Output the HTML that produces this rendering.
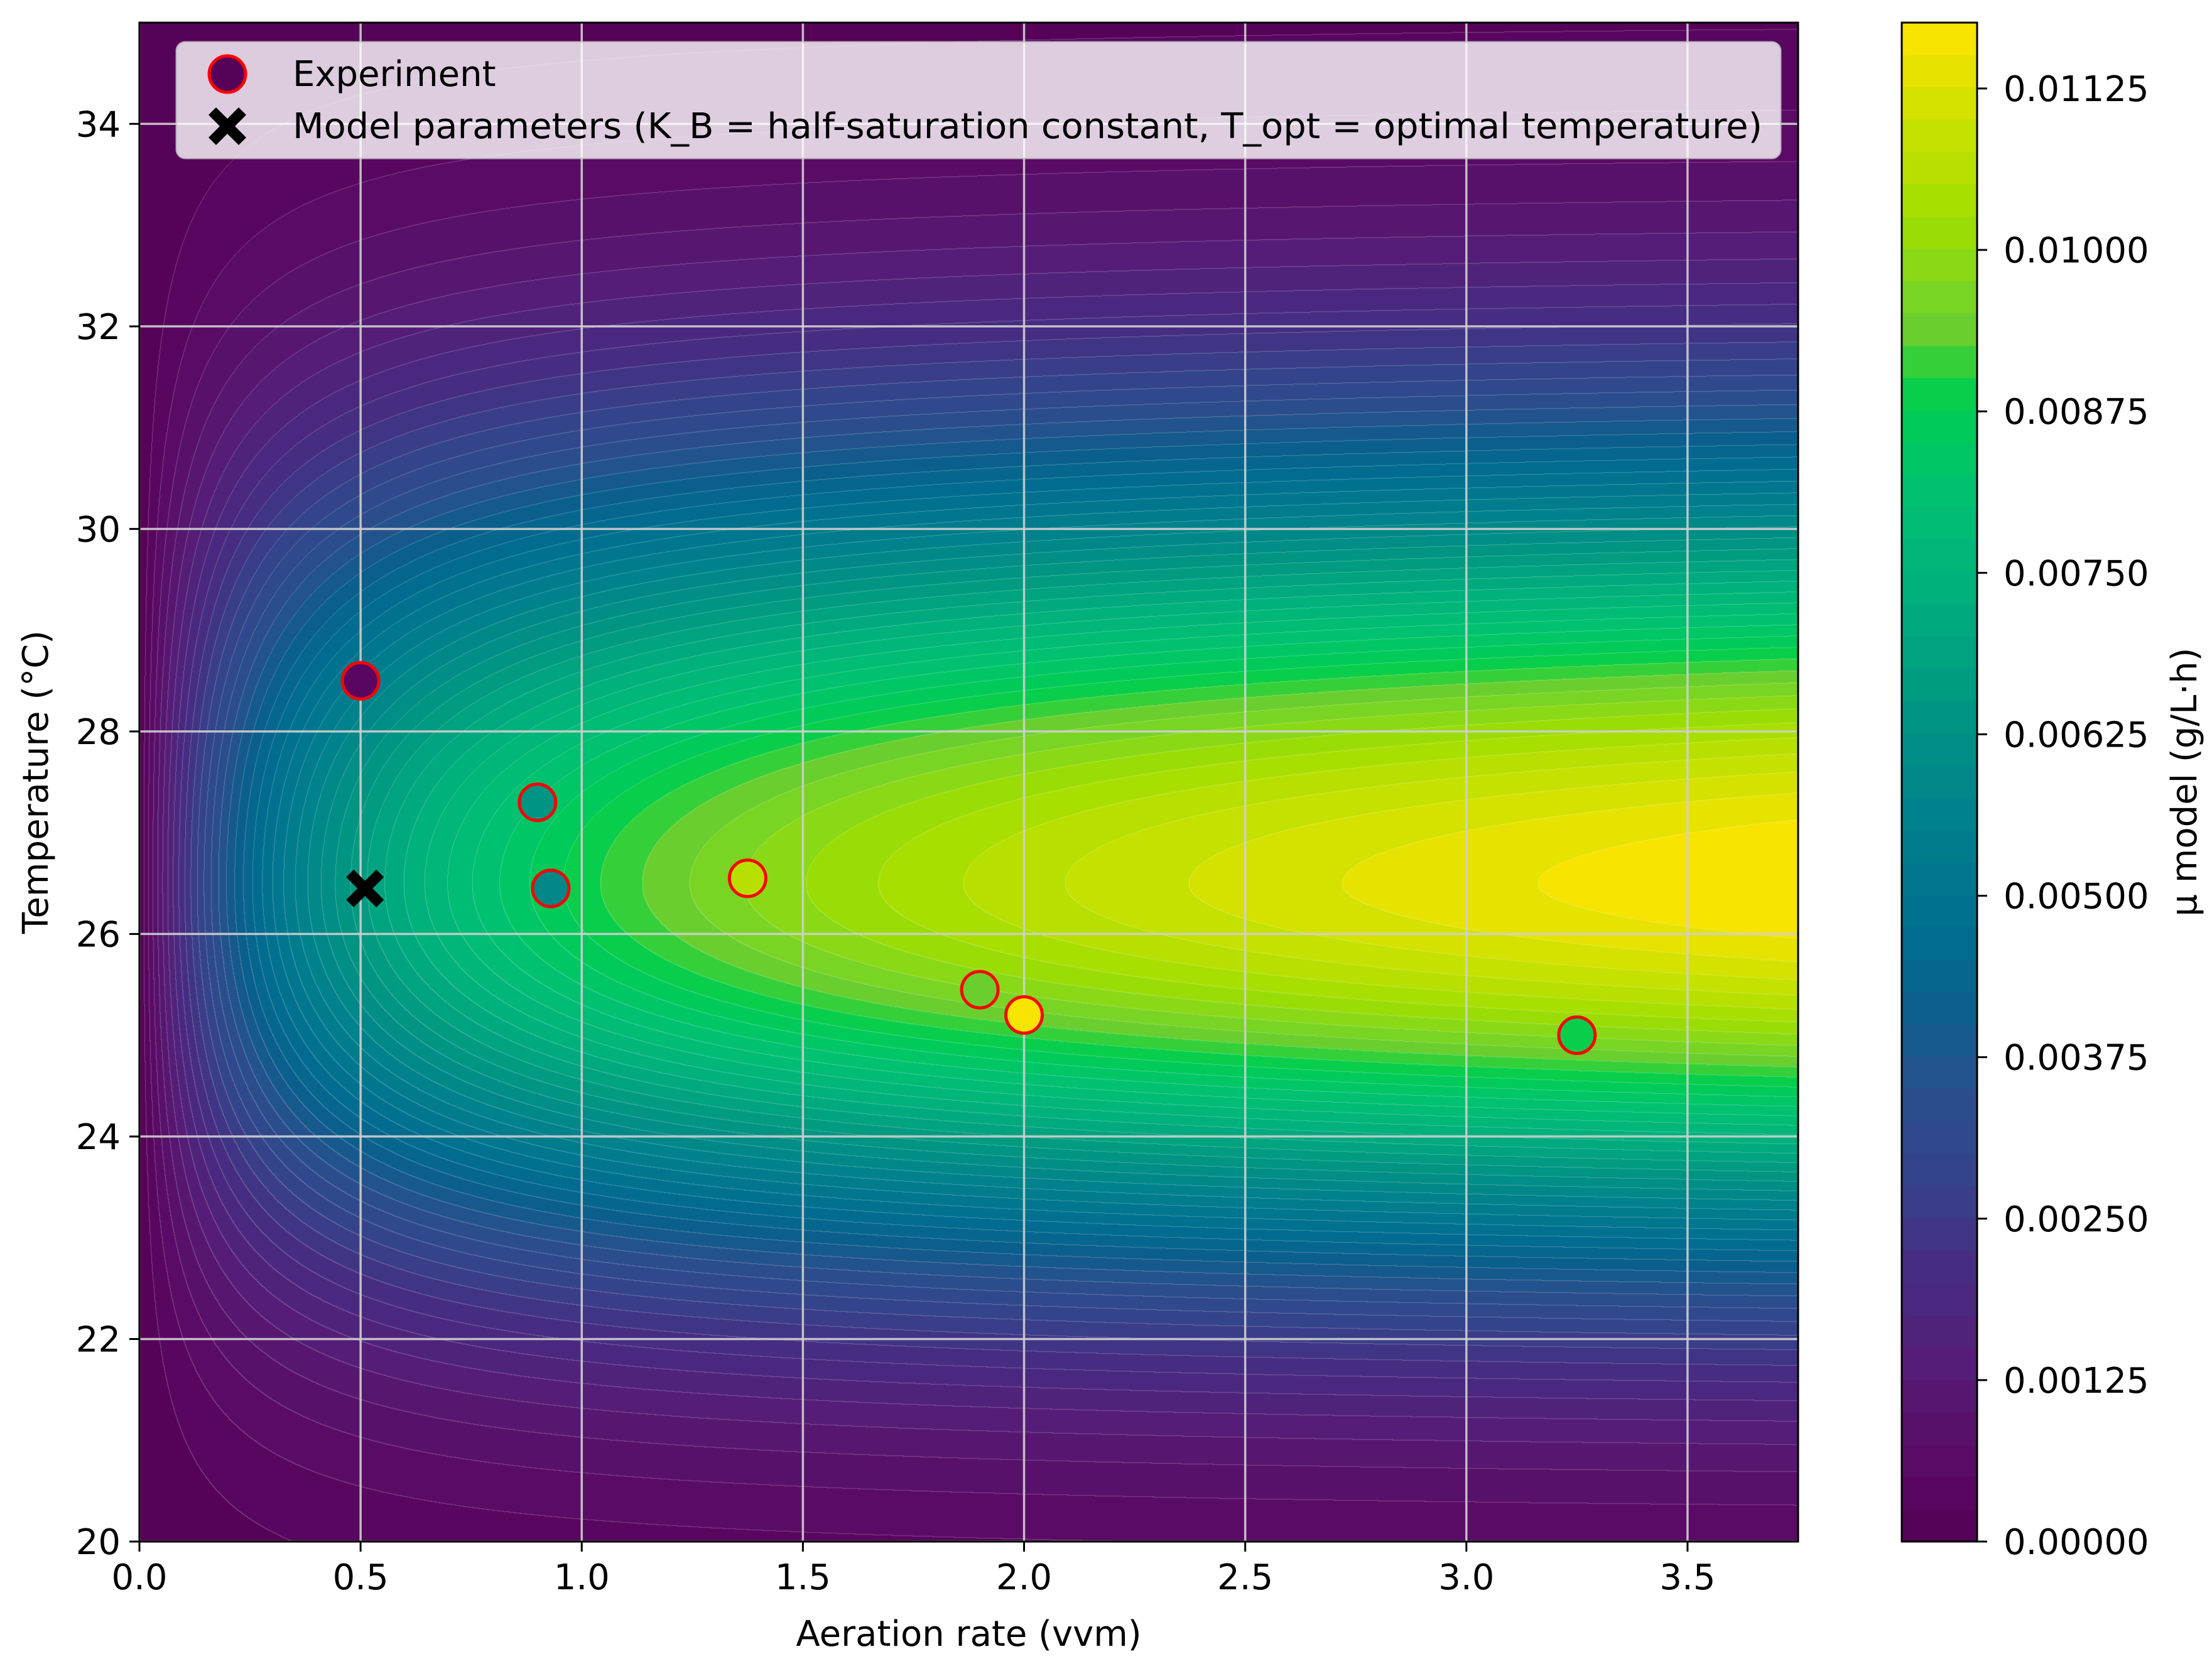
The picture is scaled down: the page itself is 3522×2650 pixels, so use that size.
<!DOCTYPE html>
<html><head><meta charset="utf-8">
<style>
html,body{margin:0;padding:0;background:#fff;}
#wrap{position:relative;width:3522px;height:2650px;overflow:hidden;font-family:"DejaVu Sans","Liberation Sans",sans-serif;}
canvas{position:absolute;}
svg{position:absolute;left:0;top:0;}
</style></head>
<body>
<div id="wrap">
<canvas id="heat"></canvas>
<canvas id="cbar"></canvas>
<svg id="svg" width="3522" height="2650"></svg>
</div>
<script>
// ---- data ----
const xTicks = [0.0,0.5,1.0,1.5,2.0,2.5,3.0,3.5];
const xTickLabels = ["0.0","0.5","1.0","1.5","2.0","2.5","3.0","3.5"];
const yTicks = [20,22,24,26,28,30,32,34];
const yTickLabels = ["20","22","24","26","28","30","32","34"];
const cbTicks = [0,0.00125,0.0025,0.00375,0.005,0.00625,0.0075,0.00875,0.01,0.01125];
const cbTickLabels = ["0.00000","0.00125","0.00250","0.00375","0.00500","0.00625","0.00750","0.00875","0.01000","0.01125"];
const expA = [0.5,0.9,0.93,1.375,1.9,2.0,3.25];
const expT = [28.5,27.3,26.45,26.55,25.45,25.2,25.0];
const expMu = [0.0003,0.0065,0.0058,0.0107,0.0094,0.0117,0.0088];
const paramA = [0.51];
const paramT = [26.45];
const modelMuMax = [0.01333];
const modelKB = [0.5];
const modelTopt = [26.5];
const modelWidthLow = [3.7];
const modelWidthHigh = [4.3];

// ---- geometry ----
const PL=222, PR=2863, PT=36, PB=2455;
const XMIN=0, XMAX=3.75, YMIN=20, YMAX=35;
const CBL=3028, CBR=3148, VMAX=0.01176;
const sx = v => PL + (v-XMIN)/(XMAX-XMIN)*(PR-PL);
const sy = v => PB - (v-YMIN)/(YMAX-YMIN)*(PB-PT);
const sc = v => PB - v/VMAX*(PB-PT);
const NLEV = 47;
const FS = 56;

const CMT=[0,0.05,0.12,0.18,0.25,0.30,0.35,0.40,0.48,0.55,0.62,0.70,0.75,0.77,0.79,0.83,0.87,0.93,1.0];
const CMC=[[85,0,85],[90,10,100],[85,30,120],[70,45,130],[50,70,140],[40,80,140],[10,95,140],[0,110,145],[0,130,140],[0,150,130],[0,175,125],[0,195,110],[0,205,80],[30,210,60],[100,205,50],[130,215,30],[160,222,0],[200,225,0],[255,228,0]];
function cmap(t){t=Math.max(0,Math.min(1,t));let i=0;while(i<CMT.length-2&&t>CMT[i+1])i++;
 const r=(t-CMT[i])/(CMT[i+1]-CMT[i]);return CMC[i].map((c,k)=>Math.round(c+(CMC[i+1][k]-c)*r));}
function mu(a,T){const w=T<modelTopt[0]?modelWidthLow[0]:modelWidthHigh[0];const d=(T-modelTopt[0])/w;
 return modelMuMax[0]*a/(modelKB[0]+a)*Math.exp(-d*d);}
function levelColor(v){const l=Math.max(0,Math.min(NLEV-1,Math.floor(v/VMAX*NLEV)));return cmap((l+0.5)/NLEV);}

// heatmap
const hc=document.getElementById('heat');const W=PR-PL,H=PB-PT;
hc.width=W;hc.height=H;hc.style.left=PL+'px';hc.style.top=PT+'px';
const ctx=hc.getContext('2d');const img=ctx.createImageData(W,H);
const lev=new Int16Array(W*H);
for(let j=0;j<H;j++){const T=YMAX-(j+0.5)/H*(YMAX-YMIN);for(let i=0;i<W;i++){const a=XMIN+(i+0.5)/W*(XMAX-XMIN);
 lev[j*W+i]=Math.min(NLEV-1,Math.floor(mu(a,T)/VMAX*NLEV));}}
const pal=[];for(let l=0;l<NLEV;l++)pal.push(cmap((l+0.5)/NLEV));
for(let j=0;j<H;j++)for(let i=0;i<W;i++){const p=j*W+i;const l=lev[p];let c=pal[l];
 const edge=(i>0&&lev[p-1]!==l)||(j>0&&lev[p-W]!==l);
 const o=p*4; if(edge){img.data[o]=c[0]+(255-c[0])*0.25;img.data[o+1]=c[1]+(255-c[1])*0.25;img.data[o+2]=c[2]+(255-c[2])*0.25;}
 else{img.data[o]=c[0];img.data[o+1]=c[1];img.data[o+2]=c[2];}img.data[o+3]=255;}
ctx.putImageData(img,0,0);

// colorbar
const cb=document.getElementById('cbar');cb.width=CBR-CBL;cb.height=H;cb.style.left=CBL+'px';cb.style.top=PT+'px';
const cctx=cb.getContext('2d');
for(let j=0;j<H;j++){const v=(H-j-0.5)/H*VMAX;const c=levelColor(v);cctx.fillStyle=`rgb(${c[0]},${c[1]},${c[2]})`;cctx.fillRect(0,j,CBR-CBL,1);}

// svg overlay
const NS='http://www.w3.org/2000/svg';const svg=document.getElementById('svg');
function el(tag,attrs,parent){const e=document.createElementNS(NS,tag);for(const k in attrs)e.setAttribute(k,attrs[k]);(parent||svg).appendChild(e);return e;}
// grid
xTicks.forEach((v,i)=>{const g=el('line',{x1:sx(v),x2:sx(v),y1:PT,y2:PB,stroke:'#d0d0d0','stroke-width':3.5,opacity:0.9});
 
 });
yTicks.forEach((v,i)=>{const g=el('line',{x1:PL,x2:PR,y1:sy(v),y2:sy(v),stroke:'#d0d0d0','stroke-width':3.5,opacity:0.9});
 
 });
// frame
const fr=el('rect',{x:PL,y:PT,width:PR-PL,height:PB-PT,fill:'none',stroke:'#000','stroke-width':3});


const cfr=el('rect',{x:CBL,y:PT,width:CBR-CBL,height:PB-PT,fill:'none',stroke:'#000','stroke-width':3});


// ticks
xTicks.forEach((v,i)=>{el('line',{x1:sx(v),x2:sx(v),y1:PB,y2:PB+16,stroke:'#000','stroke-width':3});
 const t=el('text',{x:sx(v),y:PB+76,'font-size':FS,'text-anchor':'middle',fill:'#000'});t.textContent=xTickLabels[i];
 
 });
yTicks.forEach((v,i)=>{el('line',{x1:PL-16,x2:PL,y1:sy(v),y2:sy(v),stroke:'#000','stroke-width':3});
 const t=el('text',{x:PL-30,y:sy(v)+20,'font-size':FS,'text-anchor':'end',fill:'#000'});t.textContent=yTickLabels[i];
 
 });
cbTicks.forEach((v,i)=>{el('line',{x1:CBR,x2:CBR+16,y1:sc(v),y2:sc(v),stroke:'#000','stroke-width':3});
 const t=el('text',{x:CBR+42,y:sc(v)+20,'font-size':FS,'text-anchor':'start',fill:'#000'});t.textContent=cbTickLabels[i];
 
 });
// axis labels
const xl=el('text',{x:(PL+PR)/2,y:2621,'font-size':FS,'text-anchor':'middle'});xl.textContent='Aeration rate (vvm)';


const yl=el('text',{x:0,y:0,'font-size':FS,'text-anchor':'middle',transform:`translate(76,${(PT+PB)/2}) rotate(-90)`});yl.textContent='Temperature (°C)';


const cl=el('text',{x:0,y:0,'font-size':FS,'text-anchor':'middle',transform:`translate(3497,${(PT+PB)/2}) rotate(-90)`});cl.textContent='μ model (g/L·h)';


// experiment points
expA.forEach((a,i)=>{const c=levelColor(expMu[i]);
 const p=el('circle',{cx:sx(a),cy:sy(expT[i]),r:29,fill:`rgb(${c[0]},${c[1]},${c[2]})`,stroke:'#ff0000','stroke-width':5});
 
 });
// model param marker
function xMark(cx,cy,s,parent){const d=`M${cx-s},${cy-s*0.6}L${cx-s*0.6},${cy-s}L${cx},${cy-s*0.4}L${cx+s*0.6},${cy-s}L${cx+s},${cy-s*0.6}L${cx+s*0.4},${cy}L${cx+s},${cy+s*0.6}L${cx+s*0.6},${cy+s}L${cx},${cy+s*0.4}L${cx-s*0.6},${cy+s}L${cx-s},${cy+s*0.6}L${cx-s*0.4},${cy}Z`;
 return el('path',{d:d,fill:'#000'},parent);}
paramA.forEach((a,i)=>{const m=xMark(sx(a),sy(paramT[i]),30);
 
 });
// legend
const lg=el('g',{});
el('rect',{x:281,y:67,width:2554,height:185,rx:14,fill:'#ffffff','fill-opacity':0.8,stroke:'#cccccc','stroke-opacity':0.8,'stroke-width':3},lg);
const e1=el('g',{},lg);
const c0=levelColor(0.0002);
el('circle',{cx:362,cy:118,r:29,fill:`rgb(${c0[0]},${c0[1]},${c0[2]})`,stroke:'#ff0000','stroke-width':5},e1);
const t1=el('text',{x:466,y:137,'font-size':FS},e1);t1.textContent='Experiment';
const e2=el('g',{},lg);
xMark(362,201,30,e2);
const t2=el('text',{x:466,y:220,'font-size':FS,textLength:2340,lengthAdjust:'spacingAndGlyphs'},e2);t2.textContent='Model parameters (K_B = half-saturation constant, T_opt = optimal temperature)';
</script>
</body></html>
